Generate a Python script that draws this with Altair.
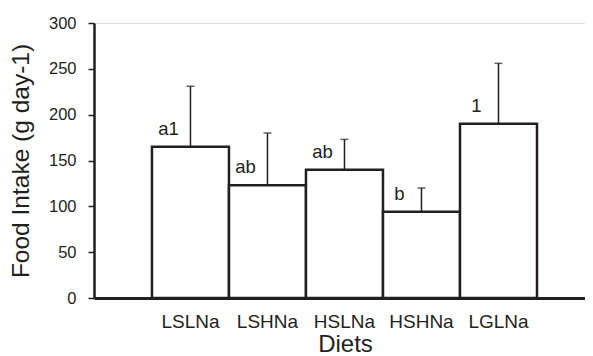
import altair as alt
import pandas as pd

diets = ["LSLNa", "LSHNa", "HSLNa", "HSHNa", "LGLNa"]
intake = [165, 123, 140, 94, 190]
error = [66, 57, 33, 26, 66]
letters = ["a1", "ab", "ab", "b", "1"]

df = pd.DataFrame({"diet": diets, "intake": intake, "err": error, "letter": letters})

FONT = "Liberation Sans"
INK = "#231f20"

x = alt.X(
    "diet:N",
    sort=diets,
    scale=alt.Scale(paddingInner=0, paddingOuter=0.688, align=0.547),
    axis=alt.Axis(
        title="Diets",
        titleFont=FONT,
        titleFontSize=24,
        titleFontWeight="normal",
        titleColor=INK,
        titleBaseline="alphabetic",
        titleX=251,
        titleY=53,
        labelFont=FONT,
        labelFontSize=19,
        labelColor=INK,
        labelAngle=0,
        labelPadding=14,
        ticks=False,
        domainColor=INK,
        domainWidth=3,
        grid=False,
    ),
)

yscale = alt.Scale(domain=[0, 300], nice=False)
yaxis = alt.Axis(
    title="Food Intake (g day-1)",
    titleFont=FONT,
    titleFontSize=24.5,
    titleFontWeight="normal",
    titleColor=INK,
    titlePadding=15,
    values=[0, 50, 100, 150, 200, 250, 300],
    labelFont=FONT,
    labelFontSize=16.5,
    labelColor=INK,
    labelPadding=12,
    tickSize=6,
    tickWidth=1.5,
    tickColor=INK,
    domainColor=INK,
    domainWidth=2.5,
    grid=False,
)

base = alt.Chart(df).transform_calculate(upper="datum.intake + datum.err")

rules = base.mark_rule(color=INK, strokeWidth=1.5).encode(
    x=x, y=alt.Y("intake:Q", scale=yscale, axis=yaxis), y2="upper:Q"
)
caps = base.mark_tick(color=INK, thickness=1.5, size=8).encode(
    x=x, y=alt.Y("upper:Q", scale=yscale)
)
bars = base.mark_bar(fill="white", stroke=INK, strokeWidth=2.5).encode(
    x=x, y=alt.Y("intake:Q", scale=yscale, axis=yaxis)
)
labels = base.mark_text(
    font=FONT, fontSize=18.5, color=INK, dx=-22, dy=-8, baseline="bottom"
).encode(x=x, y=alt.Y("intake:Q", scale=yscale), text="letter:N")

chart = (
    alt.layer(rules, caps, bars, labels)
    .properties(
        width=491,
        height=275,
        autosize=alt.AutoSizeParams(type="none"),
        padding={"left": 86, "top": 15, "right": 0, "bottom": 57},
    )
    .configure_view(stroke=None)
    .configure(background="white")
)

chart.save("out.html", embed_options={"renderer": "svg", "actions": False})
